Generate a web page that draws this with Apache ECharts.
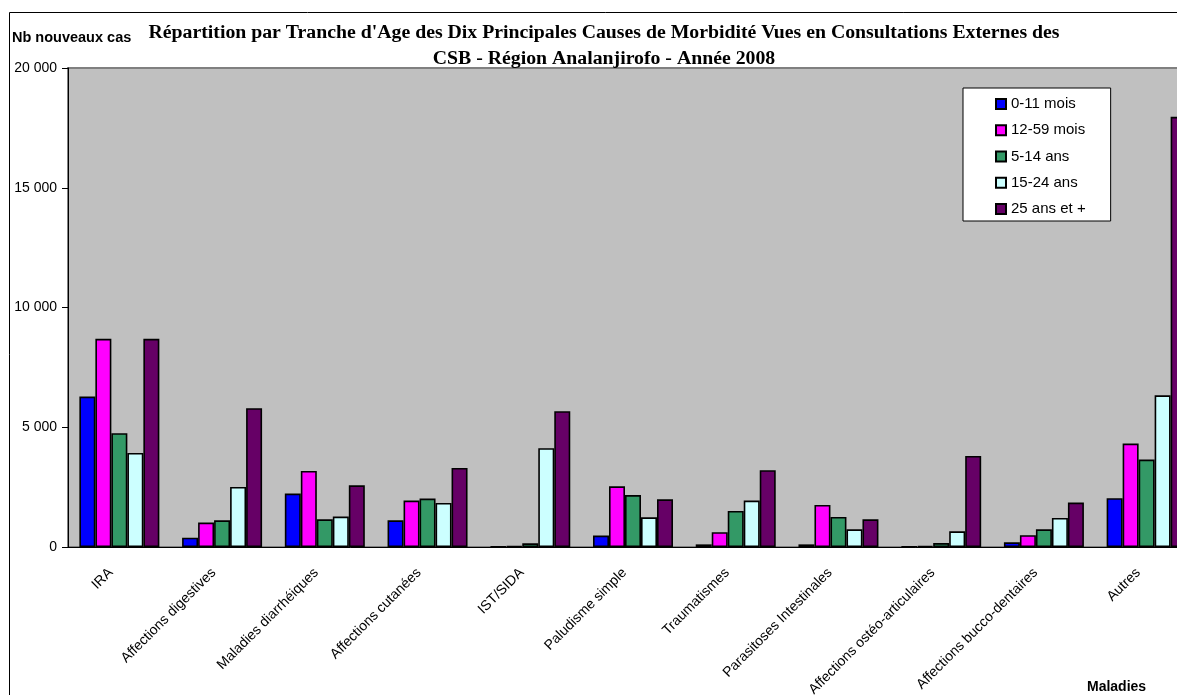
<!DOCTYPE html>
<html>
<head>
<meta charset="utf-8">
<script src="https://cdn.jsdelivr.net/npm/echarts@6/dist/echarts.min.js"></script>
<style>
  html, body { margin: 0; padding: 0; background: #fff; overflow: hidden; }
  /* the original chart runs past the right edge of the picture */
  #main { width: 1200px; height: 695px; }
</style>
</head>
<body>
<div id="main"></div>
<script>
// categories (maladies)
const maladies = ['IRA', 'Affections digestives', 'Maladies diarrhéiques', 'Affections cutanées',
  'IST/SIDA', 'Paludisme simple', 'Traumatismes', 'Parasitoses Intestinales',
  'Affections ostéo-articulaires', 'Affections bucco-dentaires', 'Autres'];

// nb nouveaux cas par tranche d'age
const mois0_11  = [6280, 390, 2230, 1115, 15, 475, 110, 110, 15, 195, 2035];
const mois12_59 = [8690, 1020, 3175, 1940, 30, 2535, 615, 1755, 40, 490, 4320];
const ans5_14   = [4750, 1115, 1155, 2020, 155, 2170, 1505, 1255, 165, 740, 3650];
const ans15_24  = [3930, 2505, 1270, 1840, 4125, 1240, 1940, 740, 655, 1210, 6335];
const ans25plus = [8690, 5795, 2575, 3300, 5670, 1990, 3205, 1155, 3800, 1855, 17960];

const tranches = ['0-11 mois', '12-59 mois', '5-14 ans', '15-24 ans', '25 ans et +'];
const valeurs = [mois0_11, mois12_59, ans5_14, ans15_24, ans25plus];
const couleurs = ['#0000FF', '#FF00FF', '#339966', '#CCFFFF', '#660066'];

const chart = echarts.init(document.getElementById('main'));

const series = tranches.map((nom, i) => ({
  name: nom,
  type: 'bar',
  data: valeurs[i],
  barWidth: 16,
  barGap: '0%',
  itemStyle: { color: couleurs[i], borderColor: '#000', borderWidth: 1.6 }
}));

chart.setOption({
  animation: false,
  backgroundColor: '#fff',
  title: {
    text: "Répartition par Tranche d'Age des Dix Principales Causes de Morbidité Vues en Consultations Externes des\nCSB - Région Analanjirofo - Année 2008",
    left: 599,
    top: 15,
    textAlign: 'center',
    textStyle: {
      fontFamily: 'Liberation Serif',
      fontWeight: 'bold',
      fontSize: 19.8,
      lineHeight: 26,
      color: '#000',
      align: 'center'
    }
  },
  legend: {
    orient: 'vertical',
    left: 963,
    top: 88,
    padding: [7, 25, 3, 32],
    itemGap: 8.25,
    itemWidth: 10,
    itemHeight: 10,
    backgroundColor: '#fff',
    borderColor: '#000',
    borderWidth: 1,
    borderRadius: 0,
    textStyle: { fontFamily: 'Liberation Sans', fontSize: 15, color: '#000', lineHeight: 18 },
    data: tranches.map(t => ({ name: t, icon: 'rect' }))
  },
  grid: {
    left: 68,
    top: 68,
    width: 1130,
    height: 479,
    outerBoundsMode: 'none',
    show: true,
    backgroundColor: '#C0C0C0',
    borderColor: '#808080',
    borderWidth: 2
  },
  xAxis: {
    type: 'category',
    data: maladies,
    axisLine: { lineStyle: { color: '#000', width: 1 } },
    axisTick: { length: 5, lineStyle: { color: '#000' } },
    axisLabel: {
      rotate: 45,
      interval: 0,
      margin: 15,
      padding: [0, 12, 0, 0],
      fontFamily: 'Liberation Sans',
      fontSize: 14,
      color: '#000'
    }
  },
  yAxis: {
    type: 'value',
    min: 0,
    max: 20000,
    interval: 5000,
    axisLine: { show: true, lineStyle: { color: '#000', width: 1 } },
    axisTick: { show: true, length: 6, lineStyle: { color: '#000' } },
    splitLine: { show: false },
    axisLabel: {
      margin: 11,
      fontFamily: 'Liberation Sans',
      fontSize: 14,
      color: '#000',
      formatter: v => String(v).replace(/\B(?=(\d{3})+(?!\d))/g, ' ')
    }
  },
  graphic: [
    {
      type: 'rect',
      shape: { x: 9.5, y: 12.5, width: 1300, height: 800 },
      style: { fill: 'none', stroke: '#000', lineWidth: 1 },
      silent: true
    },
    {
      type: 'text',
      x: 12,
      y: 38,
      style: {
        text: 'Nb nouveaux cas',
        font: 'bold 14.5px "Liberation Sans"',
        fill: '#000',
        textVerticalAlign: 'middle'
      }
    },
    {
      type: 'text',
      x: 1087,
      y: 687,
      style: {
        text: 'Maladies',
        font: 'bold 14px "Liberation Sans"',
        fill: '#000',
        textVerticalAlign: 'middle'
      }
    }
  ],
  series: series
});
</script>
</body>
</html>
